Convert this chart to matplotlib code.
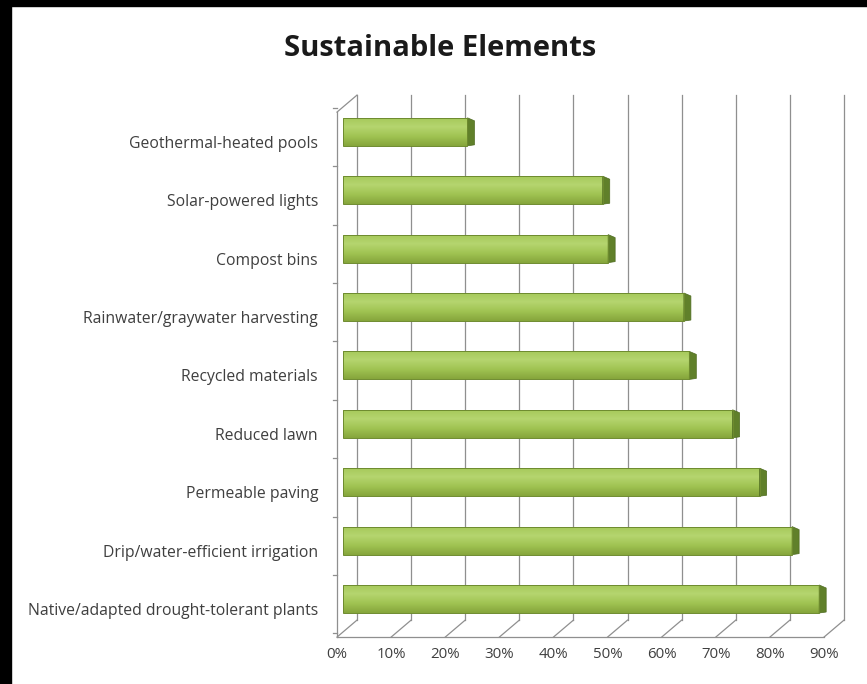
import matplotlib
matplotlib.use('Agg')
import matplotlib.pyplot as plt
import numpy as np
from matplotlib.colors import LinearSegmentedColormap
from matplotlib.patches import Polygon, Rectangle
from matplotlib.transforms import ScaledTranslation

plt.rcParams['font.family'] = ['Open Sans', 'DejaVu Sans']

# data, bottom to top
categories = ['Native/adapted drought-tolerant plants',
              'Drip/water-efficient irrigation',
              'Permeable paving',
              'Reduced lawn',
              'Recycled materials',
              'Rainwater/graywater harvesting',
              'Compost bins',
              'Solar-powered lights',
              'Geothermal-heated pools']
values = [88, 83, 77, 72, 64, 63, 49, 48, 23]
xticks = [0, 10, 20, 30, 40, 50, 60, 70, 80, 90]
xtick_labels = [f'{t}%' for t in xticks]

W, H = 867, 684
GRID = '#8f8f8f'
TEXT = '#3f3f3f'

fig = plt.figure(figsize=(W / 100, H / 100), dpi=100)
fig.patch.set_facecolor('white')

# black frame left and top (screenshot edge)
fig.patches.append(Rectangle((0, 1 - 6 / H), 1, 6 / H, transform=fig.transFigure,
                             color='black', zorder=10))
fig.patches.append(Rectangle((0, 0), 11 / W, 1, transform=fig.transFigure,
                             color='black', zorder=10))

# axes = plane of the bars, pixel box
ax_l, ax_r, ax_t, ax_b = 343, 830, 107, 632
ax = fig.add_axes([ax_l / W, (H - ax_b) / H, (ax_r - ax_l) / W, (ax_b - ax_t) / H])
ylo, yhi = -0.565, 8.425
ax.set_xlim(0, 90)
ax.set_ylim(ylo, yhi)

# depth of the 3d box (20 px right, 17 px up) in data units
px_x = (ax_r - ax_l) / 90
px_y = (ax_b - ax_t) / (yhi - ylo)
dep_x, dep_y = 20 / px_x, 17 / px_y
bx, by = 0.7 * dep_x, 0.7 * dep_y      # back wall
fx, fy = -0.3 * dep_x, -0.3 * dep_y    # front edge

kw = dict(color=GRID, lw=0.9, clip_on=False, zorder=1)
for t in xticks:
    ax.plot([t + bx, t + bx], [ylo + by, yhi + by], **kw)
    ax.plot([t + fx, t + bx], [ylo + fy, ylo + by], **kw)
ax.plot([fx, 90 + fx], [ylo + fy, ylo + fy], **kw)
ax.plot([fx, fx], [ylo + fy, yhi + fy], **kw)
ax.plot([fx, bx], [yhi + fy, yhi + by], **kw)
for i in range(len(categories) + 1):
    yb = i - 0.5 + fy
    ax.plot([fx - 4 / px_x, fx], [yb, yb], **kw)

# bars
h = 0.48
pos = np.arange(len(categories))
bars = ax.barh(pos, values, height=h, color='#9bbb59', lw=0, zorder=2)
cmap = LinearSegmentedColormap.from_list('bar', ['#86a63c', '#a0c352', '#b5d56f', '#a5c859'])
grad = np.linspace(0, 1, 64).reshape(-1, 1)
for bar, v, p in zip(bars, values, pos):
    im = ax.imshow(grad, extent=[0, v, p - h / 2, p + h / 2], origin='lower',
                   aspect='auto', cmap=cmap, zorder=2.1)
    im.set_clip_path(bar)
    ex, ey = 7 / px_x, 3 / px_y
    ax.add_patch(Polygon([(v, p - h / 2), (v, p + h / 2), (v + ex, p + h / 2 - ey),
                          (v + ex, p - h / 2 + 1 / px_y)], closed=True,
                         facecolor='#60802a', edgecolor='#4e6b20', lw=0.5,
                         clip_on=False, zorder=2.2))
ax.barh(pos, values, height=h, fill=False, edgecolor='#6e8b2f', lw=0.7, zorder=2.3)
ax.set_xlim(0, 90)
ax.set_ylim(ylo, yhi)

ax.set_xticks(xticks, xtick_labels)
ax.set_yticks(pos, categories)
ax.tick_params(length=0, labelcolor=TEXT)
ax.tick_params(axis='x', pad=11, labelsize=10.8)
ax.tick_params(axis='y', pad=18, labelsize=11.3)
for lab in ax.get_xticklabels():
    lab.set_transform(lab.get_transform() + ScaledTranslation(-0.06, 0, fig.dpi_scale_trans))
for lab in ax.get_yticklabels():
    lab.set_transform(lab.get_transform() + ScaledTranslation(0, -0.10, fig.dpi_scale_trans))
for s in ax.spines.values():
    s.set_visible(False)
ax.set_facecolor('none')

fig.text(440 / W, 1 - 48 / H, 'Sustainable Elements', ha='center', va='center',
         fontsize=21, fontweight='bold', color='#1a1a1a')

fig.savefig('out.png', dpi=100)
